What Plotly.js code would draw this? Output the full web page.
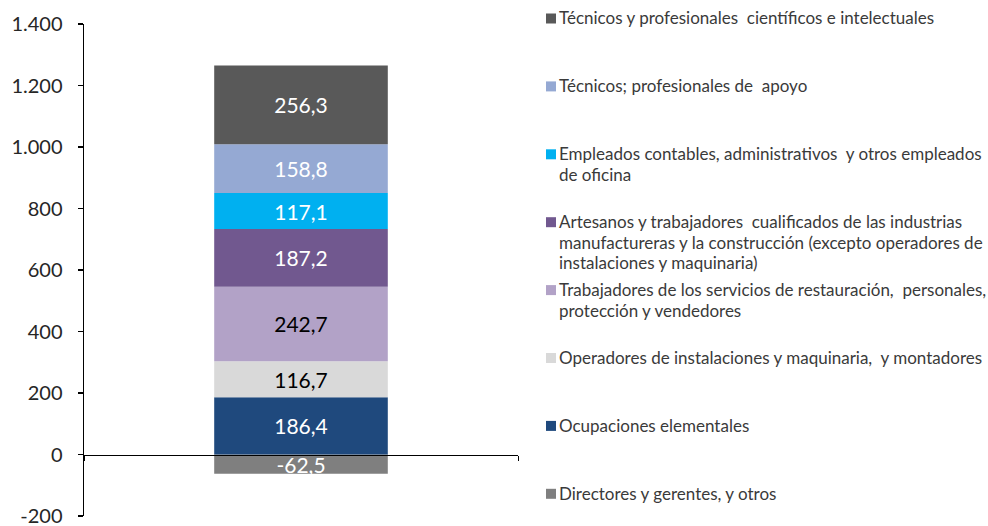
<!DOCTYPE html>
<html>
<head>
<meta charset="utf-8">
<script src="https://cdn.plot.ly/plotly-3.0.1.min.js"></script>
<style>html,body{margin:0;padding:0;background:#fff;}#chart{width:988px;height:526px;}</style>
</head>
<body>
<div id="chart"></div>
<script>
// ---- data (bottom-to-top stacking order for positives) ----
const category = ["Total"];
const seriesNames = [
  "Directores y gerentes, y otros",
  "Ocupaciones elementales",
  "Operadores de instalaciones y maquinaria, y montadores",
  "Trabajadores de los servicios de restauración, personales, protección y vendedores",
  "Artesanos y trabajadores cualificados de las industrias manufactureras y la construcción (excepto operadores de instalaciones y maquinaria)",
  "Empleados contables, administrativos y otros empleados de oficina",
  "Técnicos; profesionales de apoyo",
  "Técnicos y profesionales científicos e intelectuales"
];
const seriesValues = [-62.5, 186.4, 116.7, 242.7, 187.2, 117.1, 158.8, 256.3];
const seriesColors = ["#7f7f7f", "#1f497d", "#d9d9d9", "#b2a2c7", "#71588f", "#00b0f0", "#95a9d3", "#595959"];
const labelColors = ["#ffffff", "#ffffff", "#000000", "#000000", "#ffffff", "#ffffff", "#ffffff", "#ffffff"];
// legend labels, top to bottom, split into the lines of the original
const legendLines = [
  ["Técnicos y profesionales  científicos e intelectuales"],
  ["Técnicos; profesionales de  apoyo"],
  ["Empleados contables, administrativos  y otros empleados", "de oficina"],
  ["Artesanos y trabajadores  cualificados de las industrias", "manufactureras y la construcción (excepto operadores de", "instalaciones y maquinaria)"],
  ["Trabajadores de los servicios de restauración,  personales,", "protección y vendedores"],
  ["Operadores de instalaciones y maquinaria,  y montadores"],
  ["Ocupaciones elementales"],
  ["Directores y gerentes, y otros"]
];
const legendColors = ["#595959", "#95a9d3", "#00b0f0", "#71588f", "#b2a2c7", "#d9d9d9", "#1f497d", "#7f7f7f"];
const yTickVals = [-200, 0, 200, 400, 600, 800, 1000, 1200, 1400];
const yTickText = ["-200", "0", "200", "400", "600", "800", "1.000", "1.200", "1.400"];

// ---- layout geometry ----
const W = 988, H = 526;
const M = {l: 84, r: 470, t: 24, b: 10};
const PW = W - M.l - M.r, PH = H - M.t - M.b;
const px2x = px => (px - M.l) / PW;
const px2y = py => (H - M.b - py) / PH;

const fmt = v => v.toFixed(1).replace('.', ',');
const VALFONT = 'Lato, sans-serif';

const traces = seriesNames.map((name, i) => ({
  type: 'bar',
  name: name,
  x: category,
  y: [seriesValues[i]],
  width: 0.4,
  marker: {color: seriesColors[i], line: {width: 0}},
  text: [fmt(seriesValues[i])],
  textposition: 'inside',
  insidetextanchor: 'middle',
  textangle: 0,
  textfont: {family: VALFONT, size: 21, color: labelColors[i]},
  constraintext: 'none',
  hoverinfo: 'skip',
  showlegend: false
}));

const annotations = [];
const shapes = [];
legendLines.forEach((lines, i) => {
  const c0 = 18 + 67.9 * i;
  lines.forEach((ln, k) => {
    annotations.push({
      xref: 'paper', yref: 'paper',
      x: px2x(557), y: px2y(c0 + 20.5 * k),
      xanchor: 'left', yanchor: 'middle', align: 'left',
      showarrow: false,
      text: ln.replace(/  /g, '\u00a0 '),
      font: {family: 'Lato, sans-serif', size: 17, color: '#3a3a3a'}
    });
  });
  shapes.push({
    type: 'rect', xref: 'paper', yref: 'paper',
    x0: px2x(546), x1: px2x(556),
    y0: px2y(c0 + 5.5), y1: px2y(c0 - 4.5),
    fillcolor: legendColors[i], line: {width: 0}
  });
});

const layout = {
  width: W, height: H,
  margin: M,
  paper_bgcolor: '#ffffff', plot_bgcolor: '#ffffff',
  barmode: 'relative',
  separators: ',.',
  uniformtext: {mode: 'show', minsize: 21},
  showlegend: false,
  font: {family: 'Lato, sans-serif', color: '#262626'},
  xaxis: {
    type: 'category',
    anchor: 'free', position: 200 / 1600,
    range: [-0.5, 0.5],
    showline: true, linecolor: '#000000', linewidth: 1,
    ticks: 'outside', tickson: 'boundaries', ticklen: 5, tickcolor: '#000000', tickwidth: 1,
    showticklabels: false, showgrid: false, zeroline: false, fixedrange: true
  },
  yaxis: {
    range: [-200, 1400],
    tickvals: yTickVals, ticktext: yTickText,
    showline: true, linecolor: '#000000', linewidth: 1.5,
    ticks: 'outside', ticklen: 5, tickcolor: '#000000', tickwidth: 1.5,
    ticklabelstandoff: 11,
    ticklabeloverflow: 'allow',
    tickfont: {family: VALFONT, size: 20, color: '#262626'},
    showgrid: false, zeroline: false, fixedrange: true
  },
  annotations: annotations,
  shapes: shapes
};

Plotly.newPlot('chart', traces, layout, {staticPlot: true, displayModeBar: false});
</script>
</body>
</html>
